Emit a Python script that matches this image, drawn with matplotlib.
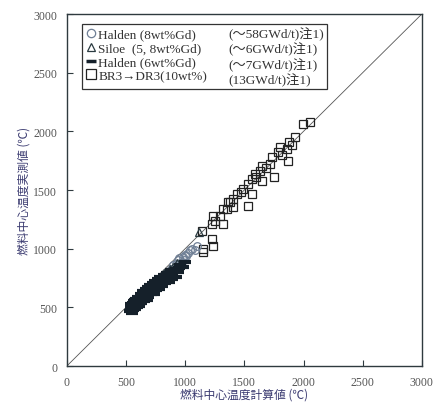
import matplotlib
matplotlib.use("Agg")
import matplotlib.pyplot as plt
from matplotlib.lines import Line2D

# Halden (6wt%Gd) -- dense dash cluster
halden6_x = [535, 540, 545, 550, 555, 560, 565, 570, 575, 580, 585, 590, 595, 600, 605, 610,
             615, 620, 625, 630, 635, 640, 645, 650, 655, 660, 665, 670, 675, 680, 685, 690,
             695, 700, 705, 710, 715, 720, 725, 730, 740, 745, 750, 760, 765, 770, 775, 780,
             790, 800, 805, 810, 820, 830, 840, 850, 860, 870, 880, 890, 900, 920, 940, 960,
             980, 1000, 560, 590, 620, 650, 680, 710, 740, 770, 800, 830, 860, 890, 920, 950]
halden6_y = [470, 500, 525, 455, 540, 480, 550, 510, 560, 490, 575, 520, 500, 560, 590, 510,
             545, 580, 610, 535, 600, 615, 640, 555, 620, 600, 655, 570, 640, 620, 670, 590,
             650, 665, 690, 610, 675, 650, 710, 625, 700, 725, 645, 715, 665, 745, 660, 735,
             760, 685, 740, 720, 780, 705, 770, 795, 720, 790, 815, 745, 800, 830, 805, 860,
             840, 890, 505, 550, 535, 595, 560, 640, 610, 690, 730, 745, 760, 775, 760, 835]

# Siloe (5.8wt%Gd)
siloe_x = [560, 600, 630, 650, 680, 700, 720, 750, 780, 800, 820, 850, 870, 900, 930, 1120]
siloe_y = [540, 590, 600, 630, 650, 690, 660, 720, 740, 760, 790, 800, 830, 840, 880, 1140]

# Halden (8wt%Gd)
halden8_x = [880, 900, 920, 940, 950, 960, 980, 990, 1000, 1010, 1020, 1040, 1060, 1080, 1100]
halden8_y = [830, 860, 870, 900, 920, 880, 930, 905, 950, 940, 960, 990, 1000, 990, 1020]

# BR3 -> DR3 (10wt%)
br3_x = [2059, 1997, 1927, 1879, 1857, 1800, 1786, 1870, 1730, 1716, 1645, 1631, 1589, 1561,
         1749, 1645, 1532, 1490, 1561, 1434, 1405, 1532, 1363, 1321, 1405, 1236, 1350, 1293,
         1321, 1223, 1251, 1223, 1236, 1152, 1152, 1138, 1900, 1820, 1680, 1600, 1470, 1380]
br3_y = [2082, 2063, 1949, 1907, 1849, 1864, 1821, 1750, 1779, 1722, 1707, 1665, 1636, 1594,
         1608, 1579, 1551, 1509, 1466, 1466, 1423, 1366, 1395, 1338, 1353, 1281, 1338, 1281,
         1210, 1210, 1238, 1082, 1025, 997, 969, 1153, 1880, 1800, 1690, 1610, 1480, 1400]

labels = ["Halden (8wt%Gd)", "Siloe  (5, 8wt%Gd)", "Halden (6wt%Gd)", "BR3→DR3(10wt%)"]
burnups = ["(～58GWd/t)注1)", "(～6GWd/t)注1)", "(～7GWd/t)注1)", "(13GWd/t)注1)"]

serif = ["Liberation Serif", "Noto Sans CJK JP"]
cjk = ["Noto Sans CJK JP", "DejaVu Sans"]
frame_col = "#2f3a3f"
label_col = "#3a3a70"

fig = plt.figure(figsize=(4.34, 4.06), dpi=100)
ax = fig.add_axes([0.154, 0.096, 0.818, 0.867])

ax.plot([0, 3000], [0, 3000], color="#555555", lw=0.6, zorder=1)

ax.plot(br3_x, br3_y, ls="none", marker="s", ms=6, mfc="none", mec="#222222", mew=0.9)
ax.plot(halden8_x, halden8_y, ls="none", marker="o", ms=5.5, mfc="none", mec="#6f7f95", mew=0.9)
ax.plot(siloe_x, siloe_y, ls="none", marker="^", ms=5.5, mfc="none", mec="#2a3a40", mew=0.9)
ax.plot(halden6_x, halden6_y, ls="none", marker="_", ms=9, mec="#15202a", mew=3)

ax.set_xlim(0, 3000)
ax.set_ylim(0, 3000)
ax.set_xticks(range(0, 3001, 500))
ax.set_yticks(range(0, 3001, 500))
ax.tick_params(direction="in", length=4, width=0.8, color=frame_col,
               labelsize=8.5, labelcolor="#555555", pad=7)
for lab in ax.get_xticklabels() + ax.get_yticklabels():
    lab.set_family(serif)
for sp in ax.spines.values():
    sp.set_color(frame_col)
    sp.set_linewidth(1.0)

ax.set_xlabel("燃料中心温度計算値 (℃)", family=cjk, fontsize=8.5, color=label_col, labelpad=0)
ax.set_ylabel("燃料中心温度実測値 (℃)", family=cjk, fontsize=8.5, color=label_col, labelpad=2)

markers = [("o", "#6f7f95", 6, 0.9), ("^", "#2a3a40", 6, 0.9),
           ("_", "#15202a", 7, 2.5), ("s", "#222222", 6.5, 0.9)]
handles = [Line2D([], [], ls="none", marker=m, ms=s, mfc="none", mec=c, mew=w)
           for m, c, s, w in markers]
handles += [Line2D([], [], ls="none") for _ in burnups]
leg = ax.legend(handles, labels + burnups, ncol=2, loc="upper left",
                bbox_to_anchor=(0.035, 0.98), prop={"family": serif, "size": 9.5},
                fancybox=False, edgecolor="#333333", framealpha=1,
                handlelength=0.9, handletextpad=0.1, columnspacing=0.6,
                labelspacing=0.12, borderpad=0.25, borderaxespad=0.2)
leg.get_frame().set_linewidth(0.9)
for t in leg.get_texts():
    t.set_color("#333333")

fig.savefig("out.png", dpi=100)
